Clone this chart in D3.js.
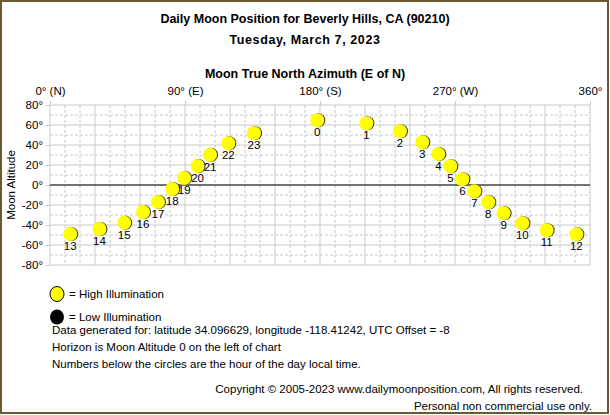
<!DOCTYPE html>
<html><head><meta charset="utf-8">
<script src="https://cdn.jsdelivr.net/npm/d3@7"></script>
<style>body{margin:0;background:#fff}svg{display:block;font-family:"Liberation Sans",Arial,sans-serif}</style>
</head><body><svg id="c" width="610" height="415"></svg>
<script>
const hours = [13,14,15,16,17,18,19,20,21,22,23,0,1,2,3,4,5,6,7,8,9,10,11,12];
const azimuth = [13.5,33,49.5,62,72,81.5,89.5,98.4,106.7,118.9,136,178.2,210.9,233.3,248.2,258.9,266.9,274.9,282.9,292.2,302.4,314.9,331.1,350.9];
const altitude = [-49,-44,-37.7,-27,-17,-4,7,19,30.3,41.7,51.7,64.7,61.7,53.7,42.7,31,18.7,5.7,-6.3,-17.3,-28.3,-38.3,-45.3,-49.3];
const xTicks = [0,90,180,270,360];
const xTickLabels = ["0° (N)","90° (E)","180° (S)","270° (W)","360°"];
const yTicks = [-80,-60,-40,-20,0,20,40,60,80];

const svg = d3.select("#c");
svg.append("rect").attr("x",1).attr("y",1).attr("width",607).attr("height",412).attr("fill","#fff").attr("stroke","#6b5a30").attr("stroke-width",2);
const x = d3.scaleLinear().domain([0,360]).range([50,590]);
const y = d3.scaleLinear().domain([-80,80]).range([265,105]);

const t = svg.append("g").attr("font-weight","bold").attr("text-anchor","middle").attr("font-size",12.5).attr("fill","#000");
t.append("text").attr("x",305).attr("y",23).text("Daily Moon Position for Beverly Hills, CA (90210)");
t.append("text").attr("x",305).attr("y",44).attr("letter-spacing",0.6).text("Tuesday, March 7, 2023");
t.append("text").attr("x",305).attr("y",78).text("Moon True North Azimuth (E of N)");

const g = svg.append("g");
for (let a=0;a<=360;a+=10) g.append("line").attr("x1",x(a)).attr("x2",x(a)).attr("y1",y(80)).attr("y2",y(-80))
  .attr("stroke","#c8c8c8").attr("stroke-dasharray", a%30===0?null:"3,2");
for (let v=-80;v<=80;v+=10) g.append("line").attr("x1",x(0)).attr("x2",x(360)).attr("y1",y(v)).attr("y2",y(v))
  .attr("stroke","#c8c8c8").attr("stroke-dasharray", v%20===0?null:"3,2");
g.append("line").attr("x1",x(0)).attr("x2",x(360)).attr("y1",y(0)).attr("y2",y(0)).attr("stroke","#000");

const xa = svg.append("g").attr("transform",`translate(0,${y(80)})`)
  .call(d3.axisTop(x).tickValues(xTicks).tickSize(4).tickFormat((d,i)=>xTickLabels[i]));
xa.select(".domain").remove();
xa.selectAll("line").attr("stroke","#c8c8c8");
xa.selectAll("text").attr("font-size",11.5).attr("font-family","Liberation Sans, Arial").attr("dy","-3");
const ya = svg.append("g").attr("transform",`translate(${x(0)},0)`)
  .call(d3.axisLeft(y).tickValues(yTicks).tickSize(4).tickFormat(d=>d+"°"));
ya.select(".domain").remove();
ya.selectAll("line").attr("stroke","#c8c8c8");
ya.selectAll("text").attr("font-size",11.5).attr("font-family","Liberation Sans, Arial");
svg.append("text").attr("transform",`translate(15,${y(0)}) rotate(-90)`).attr("text-anchor","middle").attr("font-size",11.5).text("Moon Altitude");

const pts = svg.append("g");
hours.forEach((h,i)=>{
  const cx=x(azimuth[i]), cy=y(altitude[i]);
  pts.append("circle").attr("cx",cx+1).attr("cy",cy).attr("r",7).attr("fill","#333");
  pts.append("circle").attr("cx",cx).attr("cy",cy).attr("r",7).attr("fill","#ffff00");
  pts.append("text").attr("x",cx).attr("y",cy+16).attr("text-anchor","middle").attr("font-size",11.5).text(h);
});

const lg = svg.append("g").attr("font-size",11.5);
lg.append("ellipse").attr("cx",57).attr("cy",294).attr("rx",7).attr("ry",7.5).attr("fill","#ffff00").attr("stroke","#000");
lg.append("text").attr("x",69).attr("y",298).text("= High Illumination");
lg.append("ellipse").attr("cx",57).attr("cy",317).attr("rx",7).attr("ry",7.5).attr("fill","#000");
lg.append("text").attr("x",69).attr("y",321).text("= Low Illumination");
["Data generated for: latitude 34.096629, longitude -118.41242, UTC Offset = -8",
 "Horizon is Moon Altitude 0 on the left of chart",
 "Numbers below the circles are the hour of the day local time."].forEach((s,i)=>
  lg.append("text").attr("x",52).attr("y",334+i*17).text(s));
lg.append("text").attr("x",583).attr("y",393).attr("text-anchor","end").text("Copyright © 2005-2023 www.dailymoonposition.com, All rights reserved.");
lg.append("text").attr("x",592).attr("y",410).attr("text-anchor","end").text("Personal non commercial use only.");
</script></body></html>
